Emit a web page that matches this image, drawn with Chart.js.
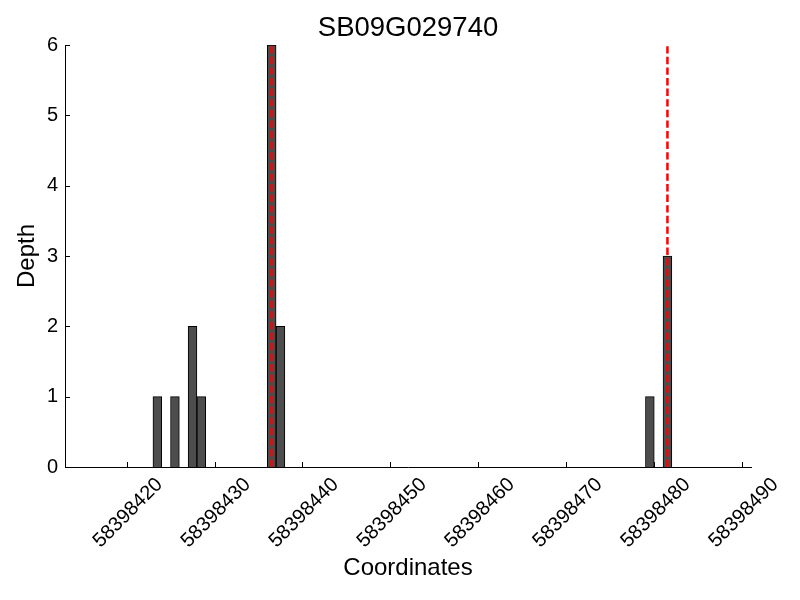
<!DOCTYPE html>
<html>
<head>
<meta charset="utf-8">
<script src="https://cdn.jsdelivr.net/npm/chart.js@4.4.1/dist/chart.umd.min.js"></script>
<style>
  html, body { margin: 0; padding: 0; background: #fff; }
  #wrap { width: 800px; height: 600px; }
</style>
</head>
<body>
<div id="wrap"><canvas id="c" width="800" height="600"></canvas></div>
<script>
// histogram bins (1 bp wide), given by bin centre
const binCenters = [58398423.5, 58398425.5, 58398427.5, 58398428.5, 58398436.5, 58398437.5, 58398479.5, 58398481.5];
const depths = [1, 1, 2, 1, 6, 2, 1, 3];

// red dashed marker positions
const markers = [58398436.5, 58398481.5];

const xTicks = [58398420, 58398430, 58398440, 58398450, 58398460, 58398470, 58398480, 58398490];
const yTicks = [0, 1, 2, 3, 4, 5, 6];

const FONT = 'Liberation Sans, Arial, sans-serif';

// small inward tick marks, like the original plot
const innerTicks = {
    id: 'innerTicks',
    afterLayout(chart) {
        // centre the title over the plot area, not the whole canvas
        if (chart.titleBlock) {
            chart.titleBlock.left = chart.chartArea.left;
            chart.titleBlock.right = chart.chartArea.right;
        }
    },
    afterDatasetsDraw(chart) {
        const ctx = chart.ctx;
        const xs = chart.scales.x, ys = chart.scales.y;
        const area = chart.chartArea;
        ctx.save();
        ctx.strokeStyle = '#000';
        ctx.lineWidth = 1;
        ctx.beginPath();
        xs.ticks.forEach(t => {
            const px = Math.round(xs.getPixelForValue(t.value)) + 0.5;
            ctx.moveTo(px, area.bottom);
            ctx.lineTo(px, area.bottom - 5);
        });
        ys.ticks.forEach(t => {
            const py = Math.round(ys.getPixelForValue(t.value)) + 0.5;
            ctx.moveTo(area.left, py);
            ctx.lineTo(area.left + 5, py);
        });
        ctx.stroke();
        ctx.restore();
    }
};

const markerSets = markers.map(m => ({
    type: 'line',
    data: [{ x: m, y: 0 }, { x: m, y: 6 }],
    borderColor: '#ff0000',
    borderWidth: 2.5,
    borderDash: [7.4, 3.2],
    pointRadius: 0,
    fill: false,
    order: 0
}));

new Chart(document.getElementById('c'), {
    type: 'bar',
    data: {
        datasets: [
            ...markerSets,
            {
                type: 'bar',
                data: binCenters.map((x, i) => ({ x: x, y: depths[i] })),
                backgroundColor: '#4d4d4d',
                borderColor: '#000',
                borderWidth: 1,
                barPercentage: 1,
                categoryPercentage: 1,
                order: 1
            }
        ]
    },
    plugins: [innerTicks],
    options: {
        responsive: false,
        animation: false,
        layout: { padding: { left: 0, right: 49, top: 0, bottom: 0 } },
        plugins: {
            legend: { display: false },
            tooltip: { enabled: false },
            title: {
                display: true,
                text: 'SB09G029740',
                color: '#000',
                font: { family: FONT, size: 27.5, weight: 'normal', lineHeight: 1 },
                padding: { top: 14.5, bottom: 3 }
            }
        },
        scales: {
            x: {
                type: 'linear',
                offset: false,
                min: 58398413,
                max: 58398491,
                grid: { display: false, drawTicks: false },
                border: { display: true, color: '#000', width: 1 },
                afterBuildTicks: s => { s.ticks = xTicks.map(v => ({ value: v })); },
                afterFit: s => { s.height = 133; },
                ticks: {
                    color: '#000',
                    font: { family: FONT, size: 20 },
                    maxRotation: 45,
                    minRotation: 45,
                    padding: 6,
                    labelOffset: 33,
                    callback: v => String(v)
                },
                title: {
                    display: true,
                    text: 'Coordinates',
                    color: '#000',
                    font: { family: FONT, size: 24 },
                    padding: { top: 0, bottom: 17 }
                }
            },
            y: {
                min: 0,
                max: 6,
                grid: { display: false, drawTicks: false },
                border: { display: true, color: '#000', width: 1 },
                afterBuildTicks: s => { s.ticks = yTicks.map(v => ({ value: v })); },
                afterFit: s => { s.width = 65; },
                ticks: {
                    color: '#000',
                    font: { family: FONT, size: 20 },
                    padding: 7
                },
                title: {
                    display: true,
                    text: 'Depth',
                    color: '#000',
                    font: { family: FONT, size: 24 },
                    padding: { top: 12.6, bottom: 0 }
                }
            }
        }
    }
});
</script>
</body>
</html>
